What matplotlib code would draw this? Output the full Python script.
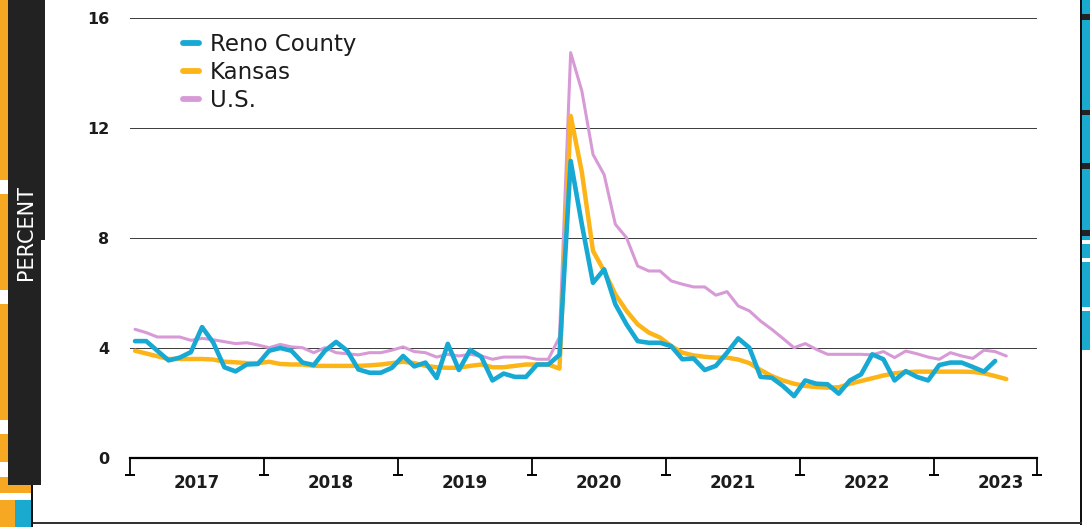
import numpy as np
import pandas as pd
import matplotlib
matplotlib.use("Agg")
import matplotlib.pyplot as plt
from matplotlib.patches import Rectangle
import matplotlib.transforms as mtransforms

plt.rcParams["font.family"] = ["DejaVu Sans"]

# Monthly unemployment rate, percent (Jan 2017 onwards)
months = pd.period_range("2017-01", "2023-07", freq="M")

reno_county = [
    4.25, 4.25, 3.90, 3.55, 3.65, 3.85, 4.76, 4.20, 3.30, 3.15, 3.40, 3.42,
    3.90, 4.00, 3.90, 3.47, 3.38, 3.90, 4.22, 3.90, 3.22, 3.10, 3.10, 3.28,
    3.71, 3.33, 3.47, 2.91, 4.15, 3.20, 3.93, 3.68, 2.82, 3.07, 2.95, 2.95,
    3.40, 3.40, 3.75, 10.80, 8.50, 6.37, 6.86, 5.59, 4.86, 4.25, 4.19, 4.19,
    4.07, 3.59, 3.62, 3.20, 3.35, 3.83, 4.35, 4.01, 2.95, 2.92, 2.62, 2.25,
    2.82, 2.70, 2.68, 2.34, 2.82, 3.04, 3.77, 3.59, 2.82, 3.16, 2.95, 2.82,
    3.38, 3.47, 3.47, 3.31, 3.14, 3.53,
]

kansas = [
    3.90, 3.80, 3.70, 3.60, 3.60, 3.60, 3.60, 3.58, 3.50, 3.48, 3.45, 3.45,
    3.50, 3.42, 3.40, 3.40, 3.35, 3.35, 3.35, 3.35, 3.35, 3.37, 3.40, 3.45,
    3.50, 3.45, 3.35, 3.30, 3.28, 3.28, 3.35, 3.40, 3.30, 3.30, 3.35, 3.40,
    3.40, 3.40, 3.25, 12.44, 10.40, 7.53, 6.80, 5.95, 5.35, 4.86, 4.56, 4.38,
    4.07, 3.83, 3.73, 3.68, 3.65, 3.65, 3.58, 3.45, 3.20, 2.98, 2.82, 2.70,
    2.62, 2.58, 2.56, 2.57, 2.70, 2.80, 2.90, 3.00, 3.08, 3.12, 3.14, 3.14,
    3.14, 3.14, 3.14, 3.13, 3.08, 2.98, 2.87,
]

us = [
    4.68, 4.56, 4.40, 4.40, 4.40, 4.28, 4.35, 4.30, 4.23, 4.16, 4.19, 4.11,
    4.01, 4.13, 4.04, 4.01, 3.83, 4.01, 3.83, 3.79, 3.75, 3.83, 3.83, 3.92,
    4.04, 3.87, 3.83, 3.67, 3.77, 3.71, 3.77, 3.71, 3.59, 3.67, 3.67, 3.67,
    3.59, 3.59, 4.40, 14.74, 13.35, 11.04, 10.30, 8.50, 8.01, 6.98, 6.80, 6.80,
    6.44, 6.32, 6.22, 6.22, 5.92, 6.05, 5.53, 5.35, 4.98, 4.68, 4.35, 4.01,
    4.16, 3.95, 3.77, 3.77, 3.77, 3.77, 3.75, 3.87, 3.65, 3.89, 3.79, 3.67,
    3.59, 3.83, 3.71, 3.62, 3.92, 3.87, 3.71,
]

years = [2017, 2018, 2019, 2020, 2021, 2022, 2023]
y_ticks = [0, 4, 8, 12, 16]
series_names = ["Reno County", "Kansas", "U.S."]

RENO_C = "#17A9D3"
KANSAS_C = "#FDB417"
US_C = "#D89AD6"
INK = "#1C1C1C"

W, H = 1090, 527
fig = plt.figure(figsize=(W / 100, H / 100), dpi=100)
fig.patch.set_facecolor("white")


def px_rect(x, y_top, w, h, color, z=0):
    """Add a rectangle given in pixel units measured from the top-left corner."""
    fig.patches.append(Rectangle((x / W, 1 - (y_top + h) / H), w / W, h / H,
                                 transform=fig.transFigure, facecolor=color,
                                 edgecolor="none", zorder=z))


# --- side decoration -------------------------------------------------------
px_rect(0, 0, 8, 485, "#F7A823")
for gy, gh in [(180, 14), (290, 14), (420, 14), (462, 15)]:
    px_rect(0, gy, 8, gh, "white", 1)
px_rect(8, 0, 37, 240, "#222222", 2)
px_rect(8, 240, 33, 245, "#222222", 2)
px_rect(0, 485, 31, 8, "#F7A823")
px_rect(0, 500, 15, 27, "#F7A823")
px_rect(15, 500, 16, 27, "#1AA9CF")
px_rect(31, 485, 2, 42, "#111111", 3)
fig.text(26 / W, 1 - 232 / H, "PERCENT", rotation=90, color="white",
         ha="center", va="center", fontsize=15)

px_rect(1082, 0, 8, 350, "#1AA9CF")
for gy, gh, c in [(14, 6, "#222222"), (110, 5, "#222222"), (163, 6, "#222222"),
                  (230, 6, "#222222"), (240, 4, "white"), (258, 4, "white"),
                  (307, 4, "white")]:
    px_rect(1082, gy, 8, gh, c, 1)
px_rect(1080, 0, 2, 525, "#111111", 3)
px_rect(33, 522, 1049, 2, "#333333", 3)

# --- main axes -------------------------------------------------------------
ax = fig.add_axes([130 / W, (H - 458) / H, 907 / W, 440 / H])
x = np.arange(len(months))

ax.plot(x[:len(us)], us, color=US_C, lw=2.2, solid_capstyle="round",
        solid_joinstyle="round", zorder=3, label=series_names[2])
ax.plot(x[:len(kansas)], kansas, color=KANSAS_C, lw=3.2, solid_capstyle="round",
        solid_joinstyle="round", zorder=4, label=series_names[1])
ax.plot(x[:len(reno_county)], reno_county, color=RENO_C, lw=3.3,
        solid_capstyle="round", solid_joinstyle="round", zorder=5,
        label=series_names[0])

x_left, x_right = -0.45, 80.75
ax.set_xlim(x_left, x_right)
ax.set_ylim(0, 16)

for s in ["top", "right", "left"]:
    ax.spines[s].set_visible(False)
ax.spines["bottom"].set_color("black")
ax.spines["bottom"].set_linewidth(1.6)

ax.set_yticks(y_ticks)
ax.set_yticklabels([str(v) for v in y_ticks], fontweight="bold", fontsize=11.5,
                   color=INK)
ax.tick_params(axis="y", length=0, pad=15)
ax.yaxis.grid(True, color="#3a3a3a", lw=0.7)
ax.set_axisbelow(True)

# year boundaries on the time axis, with a serif at the foot of each tick
bounds = [x_left + 12 * k for k in range(len(years))] + [x_right]
ax.set_xticks(bounds)
ax.set_xticklabels([""] * len(bounds))
ax.tick_params(axis="x", length=12, width=1.3, color="black", direction="out")
blend = mtransforms.blended_transform_factory(ax.transData, ax.transAxes)
ax.plot(bounds, [-12 / 0.72 / 440] * len(bounds), transform=blend, ls="none",
        marker="_", ms=7.5, mew=1.4, color="black", clip_on=False)

for k, yr in enumerate(years):
    ax.text(12 * k + 5.5, -0.056, str(yr), transform=blend, ha="center",
            va="center", fontweight="bold", fontsize=12, color=INK)

handles, labels = ax.get_legend_handles_labels()
order = [labels.index(n) for n in series_names]
leg = ax.legend([handles[i] for i in order], [labels[i] for i in order],
                loc="upper left", bbox_to_anchor=(0.058, 0.965), frameon=False,
                fontsize=16.5, handlelength=0.7, handletextpad=0.5,
                labelspacing=0.2, borderpad=0, borderaxespad=0)
for line in leg.get_lines():
    line.set_linewidth(4.2)
for t in leg.get_texts():
    t.set_color(INK)

fig.savefig("out.png", dpi=100, facecolor="white")
